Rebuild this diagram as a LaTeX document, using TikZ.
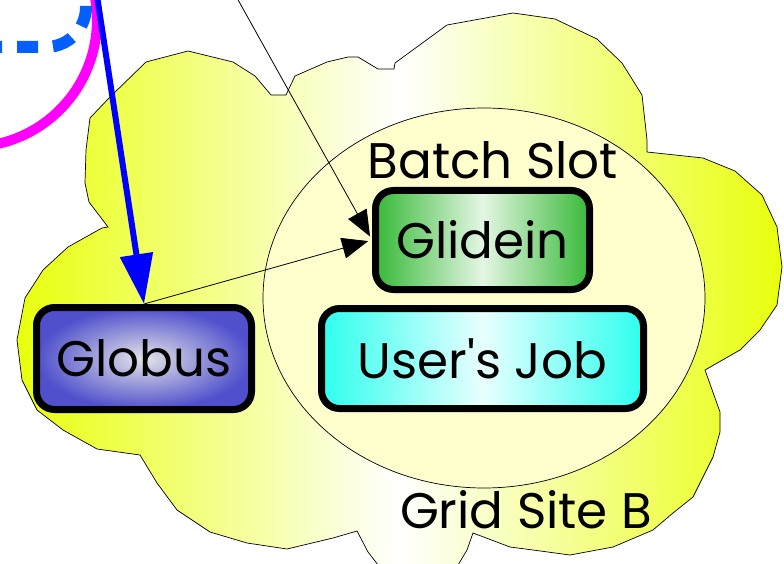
\documentclass[tikz,border=0pt]{standalone}
\usepackage{fontspec}
\setmainfont{Poppins}
\usepackage{tikz}
\usetikzlibrary{calc,shapes,arrows.meta}
\usetikzlibrary{positioning}
\usetikzlibrary{backgrounds}

\definecolor{cloudyellow}{RGB}{232,255,12}
\definecolor{slotyellow}{RGB}{255,255,205}
\definecolor{gliedge}{RGB}{55,185,55}
\definecolor{glimid}{RGB}{228,246,228}
\definecolor{jobedge}{RGB}{45,255,238}
\definecolor{jobmid}{RGB}{232,255,255}
\definecolor{globedge}{RGB}{80,80,205}
\definecolor{globmid}{RGB}{228,228,232}
\definecolor{dashblue}{RGB}{5,95,255}
\definecolor{arcmagenta}{RGB}{255,0,255}

\tikzset{
  txt/.style={font=\fontsize{50}{56}\selectfont},
  box/.style={draw=black, line width=7pt, rounded corners=18pt, txt, inner sep=0pt},
}

\begin{document}
\begin{tikzpicture}[x=1pt,y=-1pt]
	\useasboundingbox (0,0) rectangle (784,564);
	\clip (0,0) rectangle (784,564);
	
	% the site
	\draw[line width=0.7pt, left color=cloudyellow, right color=cloudyellow, middle color=white]
	(90,118) -- (110,97) -- (146,62) -- (188,51) -- (233,62) -- (255,76) -- (271,95) -- (286,95)
	-- (295,76) -- (327,62) -- (348,57) -- (358,57) -- (378,69) -- (394,69) -- (395,63) -- (447,25)
	-- (513,13) -- (555,19) -- (597,39) -- (622,63) -- (642,95) -- (647,140) -- (647,152) -- (703,158)
	-- (735,171) -- (762,195) -- (777,227) -- (782,267) -- (777,305) -- (760,330) -- (740,350)
	-- (705,370) -- (720,412) -- (720,432) -- (713,457) -- (693,497) -- (673,513) -- (653,530)
	-- (613,547) -- (570,555) -- (533,550) -- (510,547) -- (473,533) -- (467,550) -- (455,570)
	-- (382,570) -- (368,552) -- (357,531) -- (333,538) -- (287,549) -- (247,543) -- (210,532)
	-- (177,510) -- (157,483) -- (140,455) -- (97,449) -- (63,430) -- (37,410) -- (22,380)
	-- (17,340) -- (25,298) -- (43,270) -- (68,247) -- (102,228) -- (108,227) -- (89,202)
	-- (85,183) -- (86,150) -- cycle;
	
	\filldraw[fill=slotyellow, draw=black, line width=0.7pt] (484,298) ellipse [x radius=221, y radius=190];
	
	\node[txt] (slot) at (493,160) {Batch Slot};
	\node[txt] (site) at (526,510) {Grid Site B};
	
	\node[box, minimum width=214pt, minimum height=99pt, left color=gliedge, right color=gliedge, middle color=glimid] (glidein) at (482.5,240) {Glidein};
	\node[box, minimum width=322pt, minimum height=100pt, left color=jobedge, right color=jobedge, middle color=jobmid, below=12pt of glidein] (job) {User\textquotesingle s Job};
	\node[box, minimum width=215pt, minimum height=102pt, inner color=globmid, outer color=globedge, left=63pt of job] (globus) {Globus};
	
	% loose ends
	\coordinate (top1) at (97,-4);
	\coordinate (top2) at (237,-2);
	
	\draw[line width=10pt, arcmagenta] (94.2,-6.4) arc[start angle=-12, end angle=100, radius=127];
	\draw[line width=12pt, dashblue, dash pattern=on 21pt off 15pt, dash phase=9pt]
	(-10,47) -- (46,47) arc[start angle=90, end angle=0, radius=40] -- (86,-10);
	
	\draw[line width=6pt, blue, -{Triangle[length=50pt,width=32pt]}] (top1) -- (globus.north);
	\draw[line width=0.8pt, -{Triangle[length=26pt,width=21pt]}, shorten >=4pt] (top2) -- (glidein.west);
	\draw[line width=0.8pt, -{Triangle[length=26pt,width=21pt]}, shorten >=4pt] (globus.north) -- (glidein.west);
\end{tikzpicture}
\end{document}
